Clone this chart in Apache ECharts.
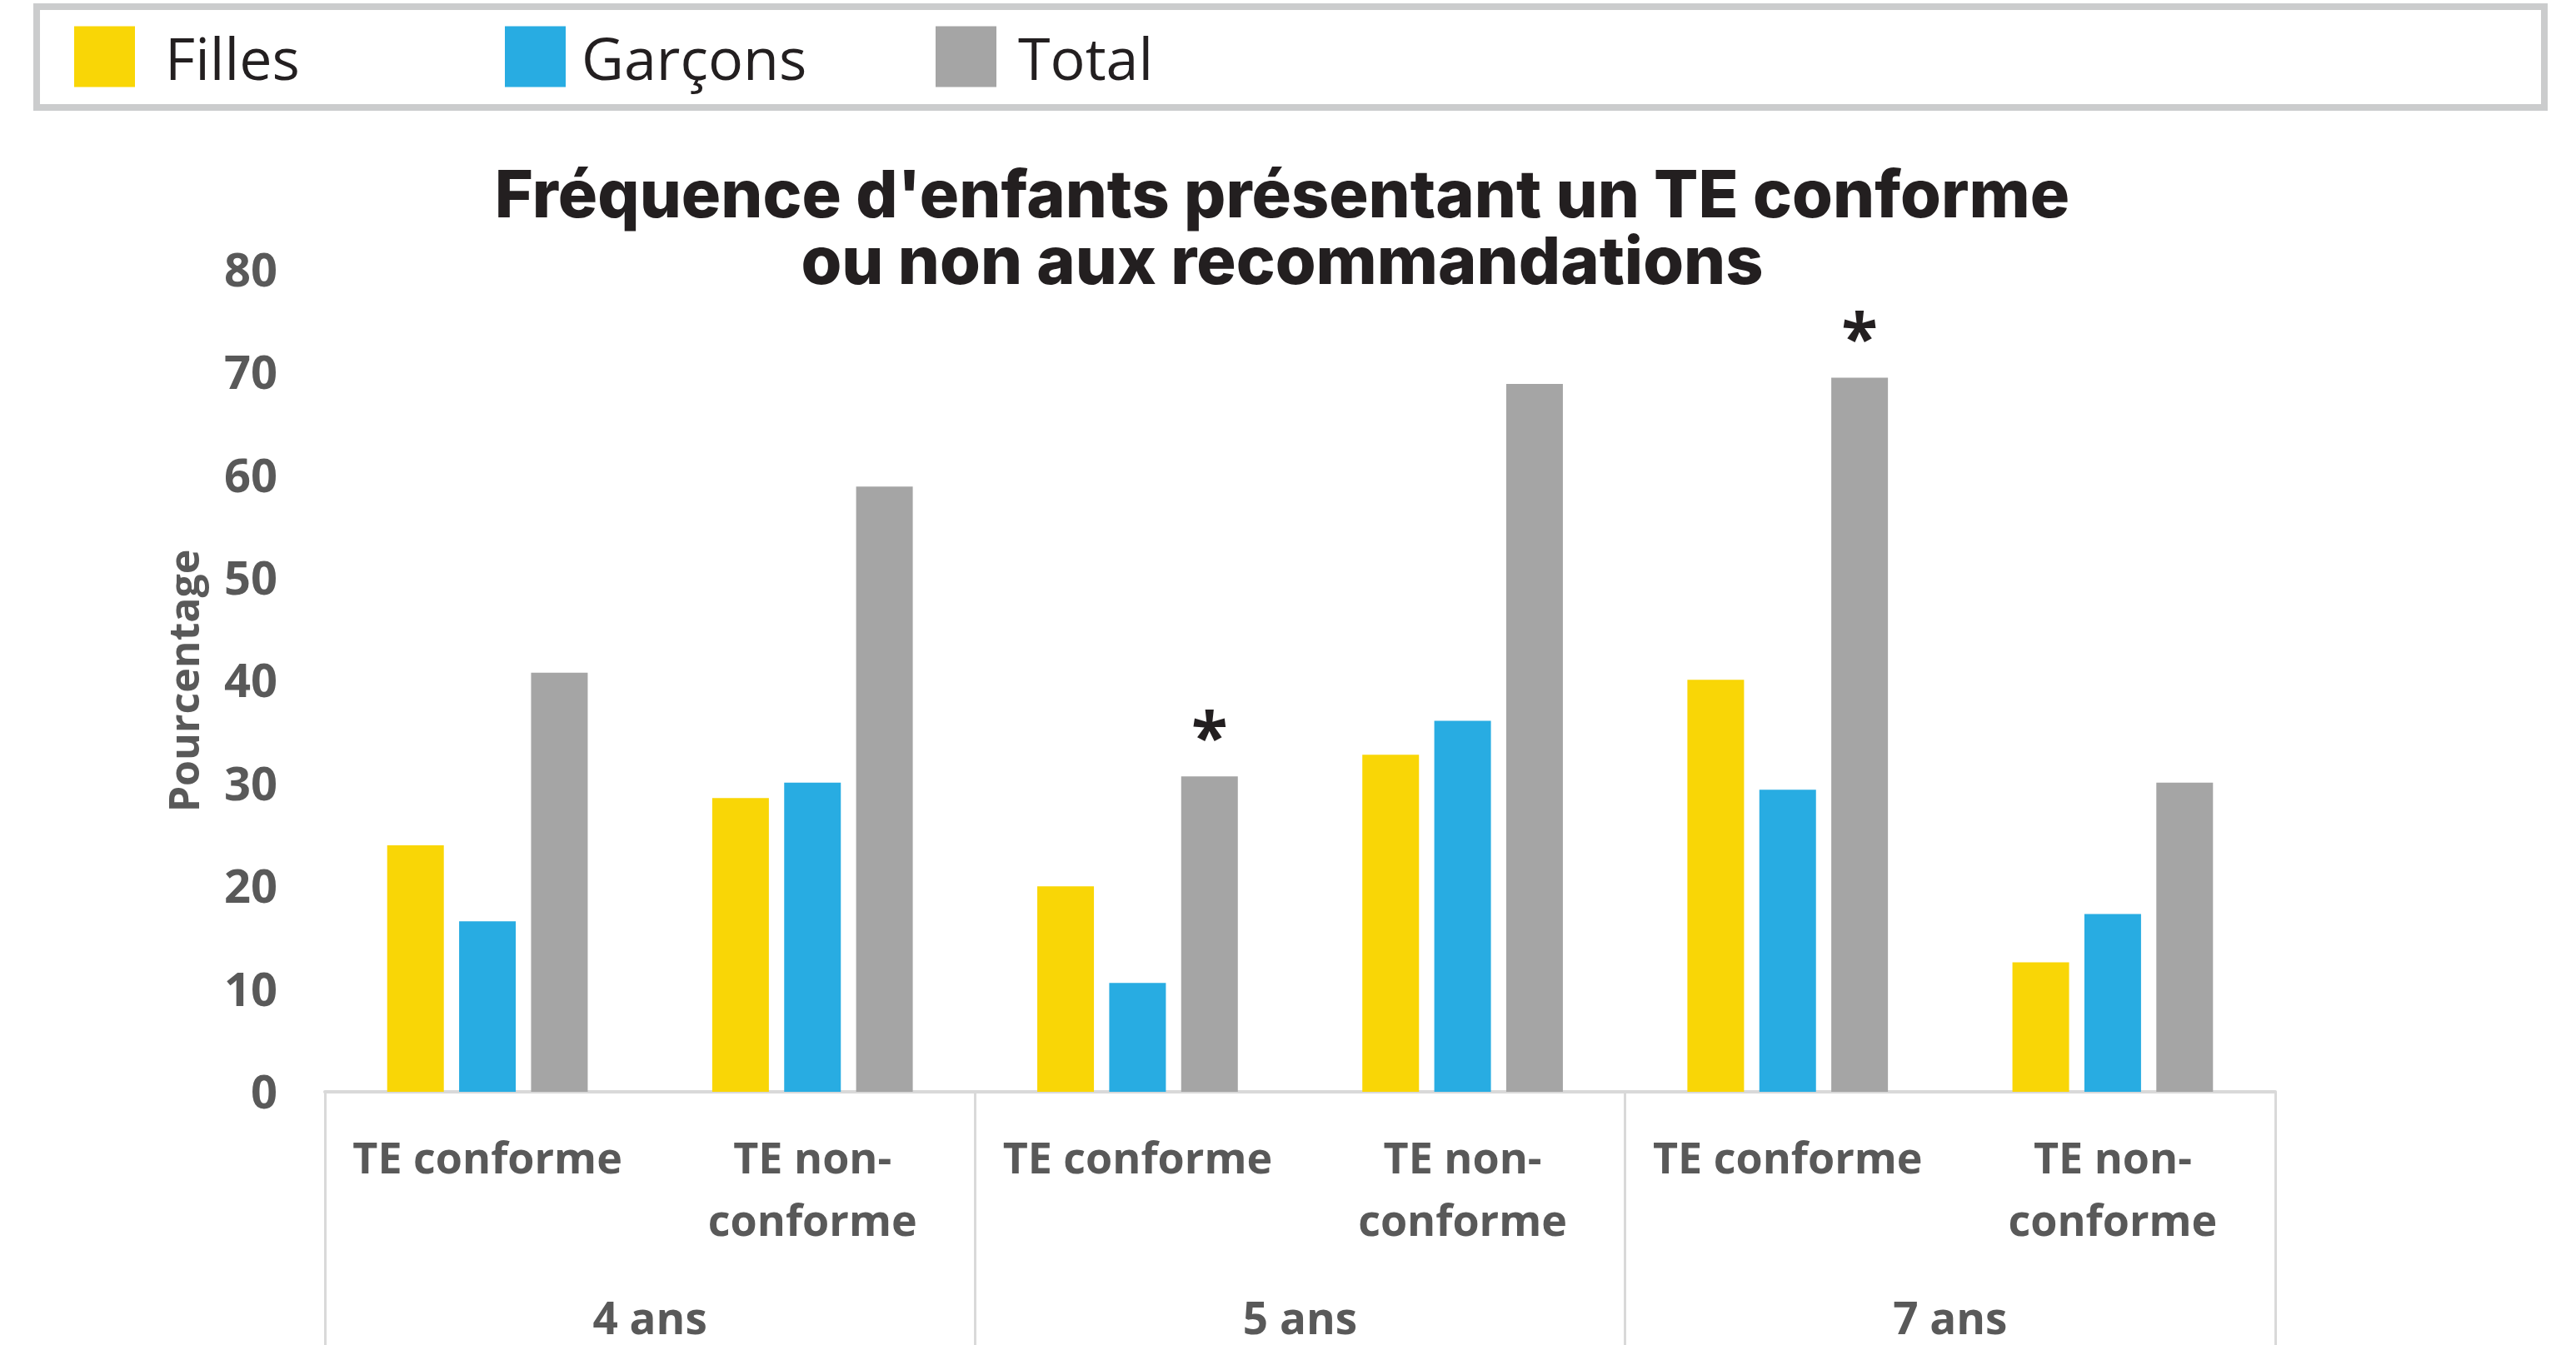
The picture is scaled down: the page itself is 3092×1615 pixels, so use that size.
<!DOCTYPE html>
<html>
<head>
<meta charset="utf-8">
<title>Fréquence TE</title>
<script src="https://cdn.jsdelivr.net/npm/echarts@6/dist/echarts.min.js"></script>
<style>
html, body { margin: 0; padding: 0; background: #fff; width: 3092px; height: 1615px; overflow: hidden; }
#chart { position: absolute; left: 0; top: 0; width: 3092px; height: 1615px; }
</style>
</head>
<body>
<div id="chart"></div>
<script>
// sous-catégories et groupes d'âge
var categories = ['TE conforme', 'TE non-\nconforme', 'TE conforme', 'TE non-\nconforme', 'TE conforme', 'TE non-\nconforme']
var groups = ['4 ans', '5 ans', '7 ans']
var filles = [24.0, 28.6, 20.0, 32.8, 40.1, 12.6]
var garcons = [16.6, 30.1, 10.6, 36.1, 29.4, 17.3]
var total = [40.8, 58.9, 30.7, 68.9, 69.5, 30.1]
var signif = ['', '', '*', '', '*', '']
var yTicks = { min: 0, max: 80, interval: 10 }

var labelFont = '"Open Sans", "Noto Sans", sans-serif'
var grey = '#595959'

var chart = echarts.init(document.getElementById('chart'))

var totalData = total.map(function(v, i) {
  if (!signif[i]) return v
  return {
    value: v,
    label: {
      show: true,
      position: 'top',
      distance: 2,
      formatter: signif[i],
      fontFamily: labelFont,
      fontWeight: 'bold',
      fontSize: 80,
      color: '#231f20'
    }
  }
})

function legendItem(name, left, gap) {
  return {
    data: [name],
    left: left,
    top: 25,
    padding: 0,
    itemWidth: 73,
    itemHeight: 73,
    icon: 'rect',
    selectedMode: false,
    formatter: '{t|{name}}',
    textStyle: {
      rich: {
        t: {
          fontFamily: labelFont,
          fontSize: 70,
          lineHeight: 56,
          color: '#231f20',
          padding: [16, 0, 0, gap]
        }
      }
    }
  }
}

var option = {
  animation: false,
  backgroundColor: '#fff',
  color: ['#f9d606', '#28ace2', '#a5a5a5'],
  title: {
    text: 'Fréquence d\'enfants présentant un TE conforme\nou non aux recommandations',
    left: 1534,
    top: 192,
    textAlign: 'center',
    textStyle: {
      fontFamily: 'Inter, Lato, "Open Sans", sans-serif',
      fontWeight: 800,
      fontSize: 79,
      lineHeight: 80,
      color: '#231f20'
    }
  },
  legend: [
    legendItem('Filles', 89, 31),
    legendItem('Garçons', 606, 14),
    legendItem('Total', 1123, 21)
  ],
  graphic: [
    {
      type: 'rect',
      shape: { x: 44, y: 8, width: 3010, height: 121 },
      style: { fill: 'none', stroke: '#cbcccd', lineWidth: 8 },
      z: -1
    }
  ],
  grid: {
    left: 390,
    right: 361,
    top: 324,
    bottom: 304,
    outerBoundsMode: 'none'
  },
  xAxis: [
    {
      type: 'category',
      position: 'bottom',
      data: categories,
      axisLine: { show: true, lineStyle: { color: '#d9d9d9', width: 4 } },
      axisTick: { show: false },
      axisLabel: {
        interval: 0,
        margin: 46,
        fontFamily: labelFont,
        fontWeight: 'bold',
        fontSize: 52,
        lineHeight: 75,
        color: grey
      }
    },
    {
      type: 'category',
      position: 'bottom',
      data: groups,
      axisLine: { show: false },
      axisTick: {
        show: true,
        interval: 0,
        length: 304,
        lineStyle: { color: '#d9d9d9', width: 3 }
      },
      axisLabel: {
        interval: 0,
        margin: 238,
        fontFamily: labelFont,
        fontWeight: 'bold',
        fontSize: 53,
        lineHeight: 75,
        color: grey
      }
    }
  ],
  yAxis: {
    type: 'value',
    min: yTicks.min,
    max: yTicks.max,
    interval: yTicks.interval,
    name: 'Pourcentage',
    nameLocation: 'middle',
    nameGap: 140,
    nameTextStyle: {
      fontFamily: labelFont,
      fontWeight: 'bold',
      fontSize: 50,
      color: grey
    },
    axisLine: { show: false },
    axisTick: { show: false },
    splitLine: { show: false },
    axisLabel: {
      margin: 57,
      formatter: '{v|{value}}',
      rich: {
        v: {
          fontFamily: labelFont,
          fontWeight: 'bold',
          fontSize: 56,
          lineHeight: 56,
          color: grey,
          padding: [8, 0, 0, 0]
        }
      }
    }
  },
  series: [
    { name: 'Filles', type: 'bar', barWidth: 68, barGap: '27%', data: filles },
    { name: 'Garçons', type: 'bar', barWidth: 68, barGap: '27%', data: garcons },
    { name: 'Total', type: 'bar', barWidth: 68, barGap: '27%', data: totalData }
  ]
}

chart.setOption(option)
</script>
</body>
</html>
